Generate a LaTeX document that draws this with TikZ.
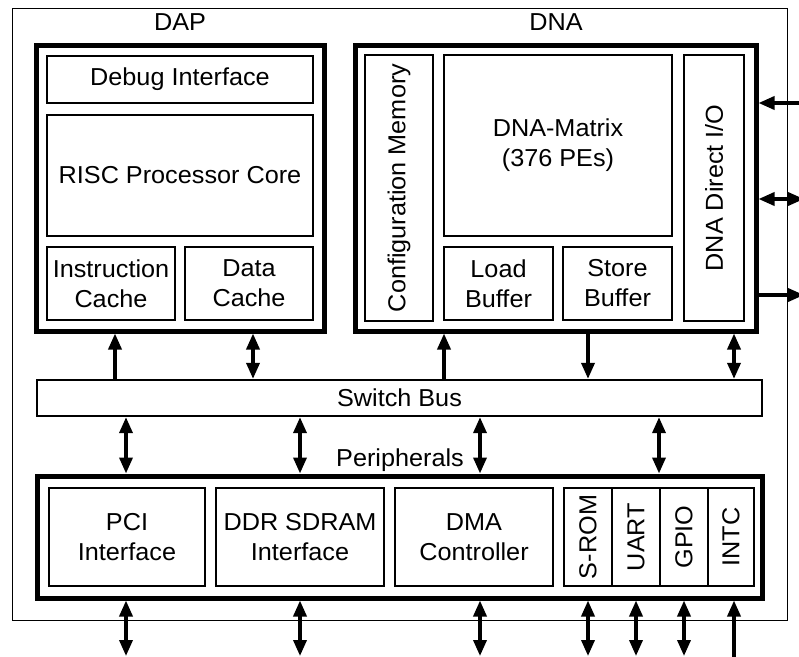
\documentclass[tikz,border=0pt]{standalone}
\usepackage{fontspec}
\setmainfont[FakeStretch=1.03]{Liberation Sans}
\usetikzlibrary{arrows.meta}
\begin{document}
\begin{tikzpicture}[x=1pt,y=-1pt,
  every node/.style={font=\fontsize{24.5}{30}\selectfont},
  bigbox/.style={draw, line width=5pt, inner sep=0pt},
  box/.style={draw, line width=2.3pt, inner sep=0pt, align=center},
  title/.style={inner sep=0pt},
  frameline/.style={draw, line width=1pt},
  conn/.style={line width=3.5pt, -{Triangle[length=16pt,width=13pt]}},
  biconn/.style={line width=3.5pt, {Triangle[length=16pt,width=13pt]}-{Triangle[length=16pt,width=13pt]}}
]
\path[use as bounding box, clip] (0,0) rectangle (799,656);
\draw[frameline] (12,8) rectangle (787,620);

% DAP
\node[title] (daptitle) at (180,22) {DAP};
\node[bigbox, minimum width=288pt, minimum height=286pt] (dap) at (180,188) {};
\node[box, minimum width=266pt, minimum height=47pt] (debug) at (180,79.5) {Debug Interface};
\node[box, minimum width=266pt, minimum height=121pt] (risc) at (180,175.5) {RISC Processor Core};
\node[box, minimum width=128pt, minimum height=73pt] (icache) at (111,283.5) {Instruction\\Cache};
\node[box, minimum width=128pt, minimum height=73pt] (dcache) at (249,283.5) {Data\\Cache};

% DNA
\node[title] (dnatitle) at (556,22) {DNA};
\node[bigbox, minimum width=401pt, minimum height=286pt] (dna) at (555.5,188) {};
\node[box, rotate=90, minimum width=266pt, minimum height=68pt] (config) at (399,188) {Configuration Memory};
\node[box, minimum width=228pt, minimum height=181pt] (matrix) at (558,145.5) {DNA-Matrix\\(376 PEs)};
\node[box, minimum width=109pt, minimum height=73pt] (load) at (498.5,283.5) {Load\\Buffer};
\node[box, minimum width=109pt, minimum height=73pt] (store) at (617.5,283.5) {Store\\Buffer};
\node[box, rotate=90, minimum width=266pt, minimum height=60pt] (dio) at (714,188) {DNA Direct I/O};

% Switch bus
\node[box, minimum width=725pt, minimum height=36pt] (bus) at (399.5,398) {Switch Bus};

% Peripherals
\node[title] (pertitle) at (400,460) {Peripherals};
\node[bigbox, minimum width=725pt, minimum height=122pt] (periph) at (399.5,537) {};
\node[box, minimum width=156pt, minimum height=98pt] (pci) at (127,537) {PCI\\Interface};
\node[box, minimum width=168pt, minimum height=98pt] (ddr) at (300,537) {DDR SDRAM\\Interface};
\node[box, minimum width=158pt, minimum height=98pt] (dma) at (474,537) {DMA\\Controller};
\node[box, minimum width=190pt, minimum height=98pt] (group) at (659,537) {};
\node[box, rotate=90, minimum width=98pt, minimum height=48pt] (srom) at (588,537) {S-ROM};
\node[box, rotate=90, minimum width=98pt, minimum height=48pt] (uart) at (636,537) {UART};
\node[box, rotate=90, minimum width=98pt, minimum height=48pt] (gpio) at (684,537) {GPIO};
\node[box, rotate=90, minimum width=98pt, minimum height=46pt] (intc) at (731,537) {INTC};

% coordinates
\coordinate (t1) at (115,0);
\coordinate (t2) at (253,0);
\coordinate (t3) at (444,0);
\coordinate (t4) at (588,0);
\coordinate (t5) at (734,0);
\coordinate (m1) at (126,0);
\coordinate (m2) at (300,0);
\coordinate (m3) at (480,0);
\coordinate (m4) at (659,0);
\coordinate (b1) at (126,656);
\coordinate (b2) at (300,656);
\coordinate (b3) at (480,656);
\coordinate (b4) at (588,656);
\coordinate (b5) at (636,656);
\coordinate (b6) at (684,656);
\coordinate (b7) at (734,658);
\coordinate (r1) at (799,103);
\coordinate (r2) at (804,199);
\coordinate (r3) at (804,295);

% bus to DAP / DNA
\draw[conn] (t1 |- bus.north) -- (t1 |- dap.south);
\draw[biconn] (t2 |- bus.north) -- (t2 |- dap.south);
\draw[conn] (t3 |- bus.north) -- (t3 |- dna.south);
\draw[conn] (t4 |- dna.south) -- (t4 |- bus.north);
\draw[biconn] (t5 |- bus.north) -- (t5 |- dna.south);

% bus to peripherals
\draw[biconn] (m1 |- bus.south) -- (m1 |- periph.north);
\draw[biconn] (m2 |- bus.south) -- (m2 |- periph.north);
\draw[biconn] (m3 |- bus.south) -- (m3 |- periph.north);
\draw[biconn] (m4 |- bus.south) -- (m4 |- periph.north);

% bottom I/O
\draw[biconn] (b1 |- periph.south) -- (b1);
\draw[biconn] (b2 |- periph.south) -- (b2);
\draw[biconn] (b3 |- periph.south) -- (b3);
\draw[biconn] (b4 |- periph.south) -- (b4);
\draw[biconn] (b5 |- periph.south) -- (b5);
\draw[biconn] (b6 |- periph.south) -- (b6);
\draw[conn] (b7) -- (b7 |- periph.south);

% right I/O
\draw[conn] (r1) -- (dna.east |- r1);
\draw[biconn] (dna.east |- r2) -- (r2);
\draw[conn] (dna.east |- r3) -- (r3);
\end{tikzpicture}
\end{document}
